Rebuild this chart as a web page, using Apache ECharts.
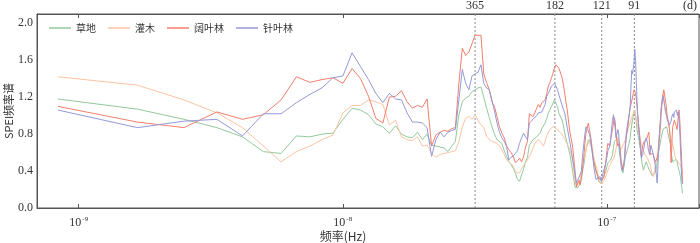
<!DOCTYPE html>
<html>
<head>
<meta charset="utf-8">
<script src="https://cdn.jsdelivr.net/npm/echarts@6/dist/echarts.min.js"></script>
<style>
html,body{margin:0;padding:0;background:#fff;}
#chart{width:700px;height:243px;}
</style>
</head>
<body>
<div id="chart"></div>
<script>
// ---- data ----
const seriesNames = ['草地', '灌木', '阔叶林', '针叶林'];
const recordYears = 38;               // spectral resolution: k / (38 years)
const periodsDays = [365, 182, 121, 91];
const xMin = 6.95e-10, xMax = 2.235e-7;
const yMin = 0, yMax = 2.1, yInterval = 0.4;

const caodi = [
1.18,1.07,0.96,0.87,0.77,0.61,0.59,0.78,0.77,0.80,
0.81,0.96,1.08,1.06,1.01,0.91,0.88,0.81,0.89,0.80,
0.77,0.76,0.82,0.74,0.80,0.68,0.67,0.66,0.65,0.61,
0.67,0.72,1.01,1.15,1.19,1.21,1.26,1.28,1.30,1.31,
1.20,1.08,0.98,0.88,0.80,0.74,0.72,0.70,0.62,0.56,
0.50,0.47,0.43,0.38,0.31,0.29,0.36,0.42,0.50,0.55,
0.68,0.70,0.74,0.72,0.77,0.76,0.81,0.86,0.85,0.92,
0.97,1.03,1.01,1.10,1.12,1.17,1.13,1.10,1.02,1.03,
0.96,0.90,0.82,0.75,0.69,0.63,0.57,0.49,0.40,0.30,
0.22,0.20,0.22,0.24,0.26,0.32,0.40,0.46,0.55,0.64,
0.68,0.71,0.74,0.70,0.65,0.60,0.53,0.47,0.42,0.38,
0.31,0.28,0.29,0.27,0.30,0.33,0.34,0.34,0.40,0.45,
0.49,0.50,0.51,0.52,0.52,0.58,0.65,0.72,0.74,0.73,
0.75,0.71,0.68,0.58,0.53,0.47,0.44,0.38,0.45,0.50,
0.56,0.59,0.62,0.65,0.68,0.70,0.76,0.84,0.90,0.96,
0.99,1.03,1.06,1.00,0.93,0.85,0.80,0.76,0.72,0.70,
0.62,0.55,0.48,0.44,0.41,0.43,0.46,0.48,0.50,0.49,
0.46,0.44,0.42,0.41,0.40,0.38,0.36,0.35,0.34,0.34,
0.36,0.38,0.40,0.41,0.45,0.50,0.55,0.60,0.64,0.67,
0.70,0.74,0.78,0.80,0.83,0.85,0.86,0.86,0.87,0.88,
0.88,0.88,0.85,0.82,0.79,0.76,0.75,0.74,0.68,0.62,
0.57,0.53,0.50,0.49,0.50,0.51,0.52,0.52,0.52,0.53,
0.52,0.48,0.45,0.42,0.40,0.39,0.38,0.33,0.28,0.24,
0.20,0.16];

const guanmu = [
1.42,1.33,1.17,1.03,0.87,0.67,0.50,0.61,0.67,0.74,
0.79,1.03,1.11,1.11,1.17,1.15,1.12,0.90,0.95,0.77,
0.74,0.73,0.77,0.67,0.68,0.59,0.55,0.58,0.59,0.60,
0.61,0.62,0.72,0.88,0.97,0.99,0.96,1.01,0.95,0.90,
0.87,0.78,0.74,0.72,0.71,0.70,0.67,0.63,0.58,0.52,
0.50,0.48,0.45,0.40,0.38,0.38,0.42,0.46,0.49,0.52,
0.56,0.60,0.65,0.70,0.72,0.74,0.74,0.70,0.67,0.72,
0.78,0.82,0.85,0.87,0.88,0.86,0.86,0.85,0.83,0.81,
0.80,0.78,0.75,0.72,0.69,0.66,0.62,0.58,0.52,0.40,
0.28,0.23,0.25,0.28,0.31,0.38,0.45,0.52,0.56,0.62,
0.70,0.74,0.72,0.68,0.67,0.62,0.55,0.50,0.46,0.42,
0.36,0.30,0.27,0.28,0.26,0.28,0.30,0.31,0.35,0.38,
0.41,0.44,0.46,0.48,0.49,0.52,0.54,0.55,0.57,0.65,
0.72,0.77,0.72,0.66,0.63,0.64,0.66,0.68,0.70,0.70,
0.74,0.78,0.82,0.85,0.88,0.90,0.92,0.95,0.96,1.00,
1.03,1.05,1.06,1.00,0.95,0.92,0.88,0.84,0.80,0.77,
0.73,0.69,0.65,0.63,0.62,0.60,0.58,0.57,0.56,0.56,
0.54,0.52,0.50,0.49,0.47,0.44,0.40,0.37,0.35,0.34,
0.38,0.42,0.46,0.50,0.52,0.56,0.62,0.68,0.72,0.74,
0.80,0.92,1.03,1.12,1.20,1.24,1.18,1.12,1.06,1.04,
1.02,1.00,0.99,0.99,0.98,0.92,0.85,0.81,0.78,0.75,
0.72,0.70,0.68,0.67,0.64,0.60,0.57,0.54,0.53,0.52,
0.51,0.50,0.50,0.49,0.49,0.48,0.49,0.47,0.45,0.43,
0.41,0.38];

const kuoye = [
1.10,0.93,0.87,1.04,0.96,1.01,1.17,1.42,1.36,1.39,
1.41,1.35,1.51,1.40,1.21,0.97,0.92,1.20,1.21,1.27,
1.15,1.08,1.11,1.09,1.18,0.67,0.79,0.82,0.84,0.83,
0.86,0.87,1.35,1.73,1.65,1.69,1.78,1.87,1.87,1.87,
1.45,1.36,1.28,1.15,1.10,0.99,0.88,0.81,0.76,0.67,
0.63,0.60,0.56,0.49,0.51,0.54,0.50,0.55,0.66,0.72,
1.02,1.04,0.99,1.03,1.08,1.12,1.09,1.14,1.16,1.17,
1.24,1.32,1.36,1.41,1.46,1.52,1.55,1.54,1.51,1.49,
1.42,1.34,1.25,1.14,1.05,0.92,0.81,0.74,0.66,0.52,
0.38,0.23,0.27,0.30,0.25,0.32,0.42,0.55,0.70,0.81,
0.86,0.92,0.85,0.78,0.70,0.56,0.50,0.45,0.40,0.37,
0.35,0.31,0.31,0.33,0.30,0.32,0.34,0.36,0.52,0.62,
0.70,0.69,0.67,0.74,0.80,0.85,0.92,0.98,0.93,0.78,
0.72,0.67,0.69,0.70,0.60,0.50,0.46,0.42,0.41,0.55,
0.70,0.76,0.82,0.87,0.95,1.02,1.09,1.12,1.16,1.20,
1.24,1.28,1.26,1.24,1.18,1.10,1.00,0.92,0.85,0.75,
0.65,0.57,0.62,0.68,0.70,0.72,0.70,0.74,0.73,0.75,
0.78,0.80,0.82,0.70,0.58,0.56,0.60,0.57,0.59,0.58,
0.55,0.53,0.50,0.52,0.52,0.54,0.56,0.60,0.72,0.85,
0.92,1.02,1.10,1.16,1.21,1.24,1.28,1.25,1.20,1.15,
1.12,1.05,1.00,0.96,0.92,0.90,0.86,0.85,0.70,0.49,
0.62,0.78,0.88,0.90,0.92,0.95,0.96,0.94,0.90,0.88,
0.85,0.88,0.95,1.02,1.06,1.00,0.90,0.78,0.66,0.56,
0.42,0.27];

const zhenye = [
1.06,0.87,0.94,0.96,0.78,1.02,1.02,1.14,1.23,1.30,
1.41,1.43,1.68,1.53,1.39,1.24,1.14,1.24,1.18,1.17,
1.03,0.93,0.93,0.92,0.87,0.56,0.74,0.82,0.77,0.82,
0.84,0.85,1.17,1.50,1.35,1.28,1.43,1.45,1.47,1.55,
1.35,1.30,1.28,1.17,1.05,0.92,0.82,0.76,0.72,0.67,
0.52,0.55,0.56,0.59,0.62,0.70,0.76,0.81,0.77,0.74,
0.92,0.94,0.96,0.98,1.00,1.03,1.05,1.04,1.06,1.12,
1.21,1.24,1.28,1.32,1.34,1.35,1.33,1.28,1.22,1.17,
1.12,1.07,1.03,0.95,0.86,0.78,0.70,0.62,0.52,0.45,
0.35,0.27,0.30,0.33,0.31,0.40,0.56,0.68,0.80,0.88,
0.86,0.84,0.85,0.75,0.65,0.56,0.45,0.38,0.31,0.30,
0.32,0.30,0.34,0.29,0.33,0.38,0.42,0.46,0.49,0.55,
0.62,0.60,0.67,0.75,0.86,0.95,1.01,0.93,0.86,0.76,
0.78,0.85,0.80,0.66,0.55,0.44,0.40,0.38,0.45,0.54,
0.66,0.80,0.87,0.92,0.98,1.03,1.10,1.32,1.49,1.45,
1.46,1.58,1.72,1.60,1.38,1.15,1.00,0.88,0.79,0.72,
0.62,0.54,0.52,0.58,0.63,0.66,0.72,0.70,0.76,0.77,
0.70,0.64,0.63,0.58,0.62,0.68,0.70,0.66,0.60,0.57,
0.53,0.50,0.46,0.40,0.33,0.27,0.42,0.58,0.74,0.82,
0.90,1.02,1.10,1.14,1.18,1.21,1.17,1.13,1.10,1.06,
1.02,0.99,0.96,0.98,0.93,0.95,0.90,0.92,0.88,0.94,
0.98,0.96,1.02,1.03,0.98,1.04,1.06,1.02,1.05,1.06,
1.03,1.00,1.04,1.03,0.95,0.86,0.77,0.62,0.50,0.36,
0.30,0.26];

const seriesValues = [caodi, guanmu, kuoye, zhenye];
const seriesColors = ['#93c99c', '#fdc4a2', '#f27e6c', '#9499d8'];

// ---- build ----
const secPerYear = 365 * 86400;
const freqs = caodi.map((_, i) => (i + 1) / (recordYears * secPerYear));
const periodFreqs = periodsDays.map(d => 1 / (d * 86400));

const serif = 'Liberation Serif';
const cjk = 'Noto Sans CJK SC';
const axisColor = '#555';

const chart = echarts.init(document.getElementById('chart'), null, {renderer: 'canvas'});

const series = seriesNames.map((name, si) => ({
  name: name,
  type: 'line',
  data: freqs.map((f, i) => [f, seriesValues[si][i]]),
  symbol: 'none',
  showSymbol: false,
  lineStyle: {width: 1, color: seriesColors[si]},
  itemStyle: {color: seriesColors[si]},
  emphasis: {disabled: true},
  z: 3 + si
}));

// dotted reference lines for the periods (days)
periodFreqs.forEach((f, i) => {
  series.push({
    name: 'p' + periodsDays[i],
    type: 'line',
    data: [[f, yMin], [f, yMax]],
    symbol: 'circle',
    symbolSize: 0.01,
    showSymbol: true,
    clip: false,
    lineStyle: {color: '#8a8a8a', type: [2, 2], width: 1},
    itemStyle: {color: 'transparent'},
    emphasis: {disabled: true},
    silent: true,
    z: 2,
    label: {
      show: true,
      position: 'top',
      distance: 2,
      fontFamily: serif,
      fontSize: 12,
      color: '#333',
      formatter: (p) => (p.dataIndex === 1 ? String(periodsDays[i]) : '')
    }
  });
});

const supLabel = (v) => {
  const e = Math.log10(v);
  if (Math.abs(e - Math.round(e)) > 1e-6) return '';
  return '{b|10}{s|' + Math.round(e) + '}';
};

chart.setOption({
  animation: false,
  backgroundColor: '#fff',
  textStyle: {fontFamily: serif},
  grid: {
    left: 37, right: 1, top: 14, bottom: 35,
    containLabel: false,
    outerBoundsMode: 'none',
    show: true, borderColor: axisColor, borderWidth: 1, backgroundColor: 'transparent'
  },
  legend: {
    data: seriesNames,
    left: 44,
    top: 18,
    icon: 'rect',
    itemWidth: 22,
    itemHeight: 1.5,
    itemGap: 12,
    textStyle: {fontFamily: cjk, fontSize: 10, color: '#333'}
  },
  xAxis: [{
    type: 'log',
    logBase: 10,
    min: xMin,
    max: xMax,
    position: 'bottom',
    name: '频率(Hz)',
    nameLocation: 'middle',
    nameGap: 22,
    nameMoveOverlap: false,
    nameTextStyle: {fontFamily: cjk, fontSize: 12, color: '#333', padding: [0, 50, 0, 0]},
    axisLine: {show: true, lineStyle: {color: axisColor, width: 1}},
    axisTick: {show: true, inside: true, length: 4, lineStyle: {color: axisColor}},
    minorTick: {show: false},
    splitLine: {show: false},
    axisLabel: {
      formatter: supLabel,
      margin: 8,
      color: '#333',
      rich: {
        b: {fontFamily: serif, fontSize: 12, color: '#333'},
        s: {fontFamily: serif, fontSize: 7, color: '#333', verticalAlign: 'top', padding: [0, 0, 6, 1]}
      }
    }
  }, {
    type: 'log',
    logBase: 10,
    min: xMin,
    max: xMax,
    position: 'top',
    axisLine: {show: true, lineStyle: {color: axisColor, width: 1}},
    axisTick: {show: true, inside: true, length: 4, lineStyle: {color: axisColor}},
    splitLine: {show: false},
    axisLabel: {show: false}
  }],
  yAxis: {
    type: 'value',
    min: yMin,
    max: yMax,
    interval: yInterval,
    name: 'SPEI频率谱',
    nameLocation: 'middle',
    nameGap: 23,
    nameMoveOverlap: false,
    nameTextStyle: {fontFamily: cjk, fontSize: 11, color: '#333'},
    axisLine: {show: true, lineStyle: {color: axisColor, width: 1}},
    axisTick: {show: false},
    splitLine: {show: false},
    axisLabel: {
      showMaxLabel: false,
      margin: 4,
      fontFamily: serif,
      fontSize: 12,
      color: '#333',
      formatter: (v) => v.toFixed(1)
    }
  },
  graphic: [{
    type: 'text',
    right: 3,
    top: 0,
    style: {text: '(d)', font: '12px "Liberation Serif"', fill: '#333'}
  }],
  series: series
});
</script>
</body>
</html>
